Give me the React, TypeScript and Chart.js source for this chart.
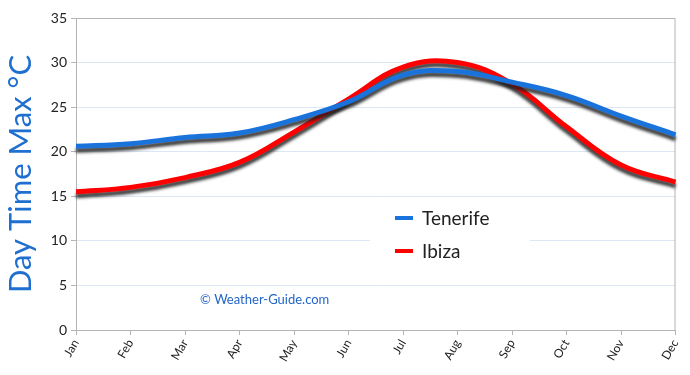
import React, { useEffect, useRef } from "react";
import { Chart, registerables } from "chart.js";

Chart.register(...registerables);

const months = ["Jan", "Feb", "Mar", "Apr", "May", "Jun", "Jul", "Aug", "Sep", "Oct", "Nov", "Dec"];
const tenerife = [20.6, 20.9, 21.6, 22.1, 23.6, 25.6, 28.6, 29.0, 27.8, 26.3, 24.0, 21.9];
const ibiza = [15.5, 16.0, 17.1, 18.8, 22.2, 25.9, 29.5, 30.0, 27.6, 22.8, 18.5, 16.6];
const yTitle = "Day Time Max °C";
const watermark = "© Weather-Guide.com";

const BLUE = "#1a72db";
const RED = "#ff0000";
const FONT = "Lato, 'Open Sans', sans-serif";

const shadowPlugin = {
  id: "lineShadow",
  beforeDatasetDraw(chart: any) {
    const ctx = chart.ctx;
    ctx.save();
    ctx.shadowColor = "rgba(30,30,30,0.85)";
    ctx.shadowOffsetX = 0;
    ctx.shadowOffsetY = 4;
    ctx.shadowBlur = 3;
  },
  afterDatasetDraw(chart: any) {
    chart.ctx.restore();
  },
};

const decorPlugin = {
  id: "decor",
  beforeDatasetsDraw(chart: any) {
    const { ctx, chartArea } = chart;
    ctx.save();
    ctx.strokeStyle = "#b4b4b4";
    ctx.lineWidth = 1;
    ctx.beginPath();
    ctx.moveTo(chartArea.left, chartArea.top + 0.5);
    ctx.lineTo(chartArea.right - 0.5, chartArea.top + 0.5);
    ctx.lineTo(chartArea.right - 0.5, chartArea.bottom);
    ctx.stroke();
    ctx.fillStyle = "#ffffff";
    ctx.fillRect(chartArea.left + 294, chartArea.top + 182, 160, 68);
    ctx.restore();
  },
  afterDatasetsDraw(chart: any) {
    const { ctx, chartArea } = chart;
    ctx.save();
    const lx = chartArea.left + 319;
    const items = chart.data.datasets;
    const ys = [chartArea.top + 200, chartArea.top + 233];
    items.forEach((ds: any, i: number) => {
      ctx.strokeStyle = ds.borderColor;
      ctx.lineWidth = 4;
      ctx.beginPath();
      ctx.moveTo(lx, ys[i]);
      ctx.lineTo(lx + 18, ys[i]);
      ctx.stroke();
      ctx.fillStyle = "#222";
      ctx.font = `19px ${FONT}`;
      ctx.textBaseline = "middle";
      ctx.textAlign = "left";
      ctx.fillText(ds.label, lx + 27, ys[i] + 1);
    });
    ctx.fillStyle = "#2466c8";
    ctx.font = `13px ${FONT}`;
    ctx.textBaseline = "middle";
    ctx.textAlign = "left";
    ctx.fillText(watermark, chartArea.left + 124, chartArea.top + 282);
    ctx.restore();
  },
};

export default function App() {
  const ref = useRef<HTMLCanvasElement>(null);
  useEffect(() => {
    if (!ref.current) return;
    const chart = new Chart(ref.current, {
      type: "line",
      data: {
        labels: months,
        datasets: [
          {
            label: "Tenerife",
            data: tenerife,
            borderColor: BLUE,
            backgroundColor: BLUE,
            borderWidth: 5,
            pointRadius: 0,
            tension: 0.4,
            fill: false,
          },
          {
            label: "Ibiza",
            data: ibiza,
            borderColor: RED,
            backgroundColor: RED,
            borderWidth: 5,
            pointRadius: 0,
            tension: 0.4,
            fill: false,
          },
        ],
      },
      options: {
        animation: false,
        responsive: false,
        maintainAspectRatio: false,
        layout: { padding: { top: 18, right: 14, left: 0, bottom: 0 } },
        plugins: {
          legend: { display: false },
          tooltip: { enabled: false },
        },
        scales: {
          x: {
            offset: false,
            afterFit: (s: any) => {
              s.height = 45;
            },
            grid: {
              drawOnChartArea: false,
              drawTicks: true,
              tickLength: 5,
              tickColor: "#b4b4b4",
            },
            border: { color: "#b4b4b4" },
            ticks: {
              minRotation: 60,
              maxRotation: 60,
              padding: 2,
              color: "#222",
              font: { family: FONT, size: 12 },
            },
          },
          y: {
            min: 0,
            max: 35,
            afterFit: (s: any) => {
              s.width = 76;
            },
            ticks: {
              stepSize: 5,
              padding: 4,
              color: "#222",
              font: { family: FONT, size: 14 },
            },
            grid: {
              color: "#dce7f5",
              tickColor: "#b4b4b4",
              tickLength: 5,
            },
            border: { color: "#b4b4b4" },
            title: {
              display: true,
              text: yTitle,
              color: "#1f6fd0",
              font: { family: FONT, size: 31 },
              padding: { top: 2, bottom: 0 },
            },
          },
        },
      },
      plugins: [shadowPlugin, decorPlugin],
    });
    return () => chart.destroy();
  }, []);
  return (
    <div style={{ position: "fixed", left: 0, top: 0, width: 690, height: 375, background: "#fff" }}>
      <canvas ref={ref} width={690} height={375} style={{ width: 690, height: 375 }} />
    </div>
  );
}
